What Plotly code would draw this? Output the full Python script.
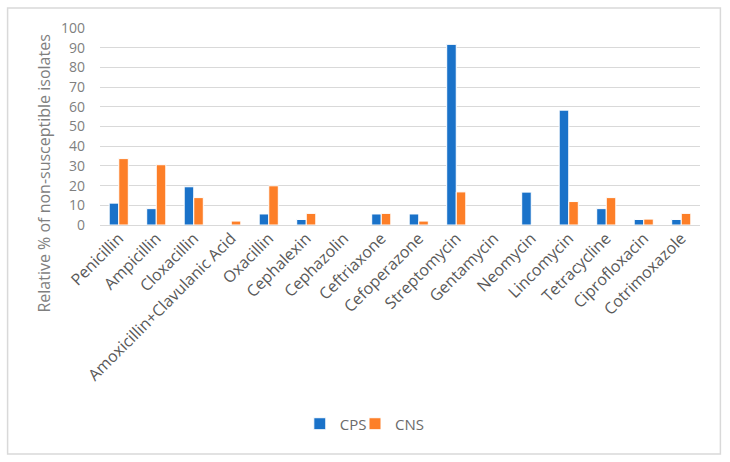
import plotly.graph_objects as go

drugs = ['Penicillin', 'Ampicillin', 'Cloxacillin', 'Amoxicillin+Clavulanic Acid',
         'Oxacillin', 'Cephalexin', 'Cephazolin', 'Ceftriaxone', 'Cefoperazone',
         'Streptomycin', 'Gentamycin', 'Neomycin', 'Lincomycin', 'Tetracycline',
         'Ciprofloxacin', 'Cotrimoxazole']
cps = [11.1, 8.3, 19.4, 0, 5.6, 2.8, 0, 5.6, 5.6, 91.7, 0, 16.7, 58.3, 8.3, 2.8, 2.8]
cns = [33.7, 30.6, 13.9, 2.0, 19.9, 5.9, 0, 5.9, 2.0, 16.8, 0, 0, 11.9, 13.9, 3.0, 5.9]

fig = go.Figure()
fig.add_trace(go.Bar(x=drugs, y=cps, name='CPS', marker_color='#1a72c9',
                     marker_line=dict(color='white', width=1), legend='legend'))
fig.add_trace(go.Bar(x=drugs, y=cns, name='CNS', marker_color='#fd7f28',
                     marker_line=dict(color='white', width=1), legend='legend2'))

leg = dict(orientation='h', y=-1.01, xanchor='left', yanchor='middle',
           font=dict(size=15, color='#6b6b6b'), itemwidth=30, bgcolor='rgba(0,0,0,0)')

# plot area: x 100..700 px, y 28..225 px
fig.update_layout(
    width=730, height=462,
    margin=dict(l=100, r=30, t=28, b=237),
    paper_bgcolor='white', plot_bgcolor='white',
    font=dict(family='Open Sans', color='#7f7f7f'),
    barmode='group', bargap=0.49, bargroupgap=0.0,
    showlegend=True,
    legend=dict(leg, x=0.333),
    legend2=dict(leg, x=0.425),
    xaxis=dict(tickangle=-45, tickfont=dict(size=16, color='#595959'),
               showgrid=False, showline=False, ticks='', automargin=False),
    yaxis=dict(range=[0, 100], dtick=10, tickfont=dict(size=14, color='#7f7f7f'),
               gridcolor='#d9d9d9', gridwidth=1, zeroline=True, zerolinecolor='#d9d9d9',
               zerolinewidth=1, showline=False, ticks='', ticklabelstandoff=14,
               automargin=False),
)

fig.add_annotation(text='Relative % of non-susceptible isolates', textangle=-90,
                   xref='paper', yref='paper', x=-0.094, y=0.259,
                   xanchor='center', yanchor='middle',
                   showarrow=False, font=dict(size=16, color='#7f7f7f'))

fig.add_shape(type='rect', xref='paper', yref='paper',
              x0=-0.154, x1=1.034, y0=-1.162, y1=1.1015,
              line=dict(color='#d9d9d9', width=1.5), layer='below')

# the page body has a default 8px margin; drop it so the figure sits at 0,0
fig.write_html('out.html', config={'displayModeBar': False},
               post_script="document.body.style.margin='0';")
